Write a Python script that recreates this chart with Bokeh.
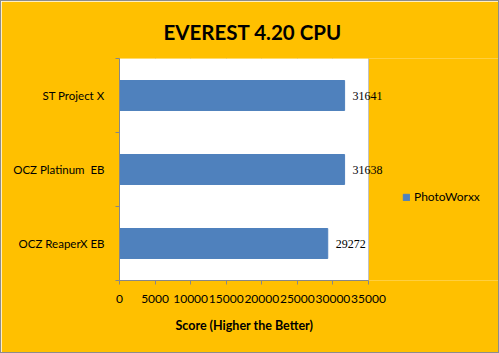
from bokeh.plotting import figure
from bokeh.models import FixedTicker, Legend, LegendItem, Range1d, ColumnDataSource, LabelSet, BoxAnnotation, Title
from bokeh.embed import file_html
from bokeh.resources import INLINE

categories = ["OCZ ReaperX EB", "OCZ Platinum  EB", "ST Project X"]
series_name = "PhotoWorxx"
values = [29272, 31638, 31641]
x_ticks = [0, 5000, 10000, 15000, 20000, 25000, 30000, 35000]
x_title = "Score (Higher the Better)"

FONT = "Lato"
GRAY = "#878787"
BAR = "#4F81BD"
BG = "#FFC000"

pos = [i + 0.5 for i in range(len(categories))]
src = ColumnDataSource(dict(y=pos, v=values, lab=[str(v) for v in values]))

# frame spans from x=118 to x=498 px; the white plot area covers 0..35000 (249 px)
x_max = x_ticks[-1] * 380 / 249
p = figure(width=499, height=353, output_backend="svg", toolbar_location=None,
           x_range=Range1d(0, x_max), y_range=Range1d(0, len(categories)),
           min_border_left=118, min_border_right=1, min_border_top=57, min_border_bottom=74,
           background_fill_color=BG, border_fill_color=BG,
           title="EVEREST 4.20 CPU")
p.outline_line_color = None
p.styles = {"border": "1px solid #8c8c8c", "box-sizing": "border-box"}

p.add_layout(BoxAnnotation(left=x_ticks[0], right=x_ticks[-1], bottom=0, top=len(categories),
                           fill_color="white", fill_alpha=1, line_color=None, level="underlay"))

p.title.text_font = FONT
p.title.text_font_size = "20.5px"
p.title.text_font_style = "bold"
p.title.align = "left"
p.title.offset = 44
p.title.standoff = 10
p.title.padding = dict(left=0, right=0, top=0, bottom=10)
p.title.text_color = "black"

r = p.hbar(y="y", right="v", left=0, height=0.405, color=BAR, source=src)
labels = LabelSet(x="v", y="y", text="lab", source=src, x_offset=8, text_baseline="middle",
                  text_font_size="12px", text_color="black", text_font=FONT)
p.add_layout(labels)

# x axis
xa = p.xaxis[0]
xa.ticker = FixedTicker(ticks=x_ticks)
xa.bounds = (x_ticks[0], x_ticks[-1])
xa.major_label_text_font = FONT
xa.major_label_text_font_size = "12px"
xa.major_label_text_color = "black"
xa.major_label_standoff = 10
xa.major_tick_in = 0
xa.major_tick_out = 4
xa.minor_tick_line_color = None
xa.axis_line_color = GRAY
xa.major_tick_line_color = GRAY

p.add_layout(Title(text=x_title, align="left", offset=56, standoff=20,
                   text_font=FONT, text_font_size="12.5px", text_font_style="bold",
                   text_color="black"), "below")

# y axis
ya = p.yaxis[0]
ya.ticker = FixedTicker(ticks=pos, minor_ticks=list(range(len(categories) + 1)))
ya.major_label_overrides = {pv: c.replace("  ", "\u00a0 ") for pv, c in zip(pos, categories)}
ya.major_label_text_font = FONT
ya.major_label_text_font_size = "11.5px"
ya.major_label_text_color = "black"
ya.major_label_standoff = 9
ya.major_tick_line_color = None
ya.minor_tick_line_color = GRAY
ya.minor_tick_in = 0
ya.minor_tick_out = 4
ya.axis_line_color = GRAY

p.xgrid.grid_line_color = GRAY
p.xgrid.ticker = FixedTicker(ticks=x_ticks)
p.ygrid.grid_line_color = None

legend = Legend(items=[LegendItem(label=series_name, renderers=[r])],
                location=(283, 76), border_line_color=None, background_fill_alpha=0,
                label_text_font=FONT, label_text_font_size="12px", label_text_color="black",
                glyph_width=8, glyph_height=8, padding=0, margin=0, label_standoff=4)
p.add_layout(legend)

open("out.html", "w").write(file_html(p, INLINE))
